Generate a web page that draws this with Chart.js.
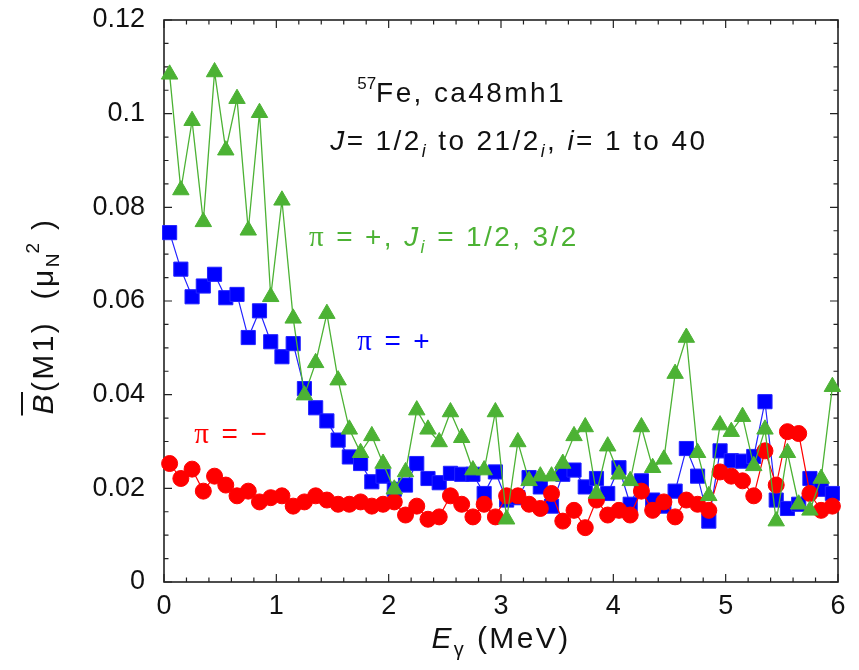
<!DOCTYPE html>
<html>
<head>
<meta charset="utf-8">
<script src="https://cdn.jsdelivr.net/npm/chart.js@4.4.1/dist/chart.umd.min.js"></script>
<style>
  html, body { margin: 0; padding: 0; background: #fff; }
</style>
</head>
<body>
<canvas id="chart" width="859" height="670"></canvas>
<script>
// bin centres (MeV)
const energies = [
  0.05, 0.15, 0.25, 0.35, 0.45, 0.55, 0.65, 0.75, 0.85, 0.95,
  1.05, 1.15, 1.25, 1.35, 1.45, 1.55, 1.65, 1.75, 1.85, 1.95,
  2.05, 2.15, 2.25, 2.35, 2.45, 2.55, 2.65, 2.75, 2.85, 2.95,
  3.05, 3.15, 3.25, 3.35, 3.45, 3.55, 3.65, 3.75, 3.85, 3.95,
  4.05, 4.15, 4.25, 4.35, 4.45, 4.55, 4.65, 4.75, 4.85, 4.95,
  5.05, 5.15, 5.25, 5.35, 5.45, 5.55, 5.65, 5.75, 5.85, 5.95
];

// pi = +, J_i = 1/2, 3/2 (green triangles)
const plusLowJ = [
  0.1084, 0.0837, 0.0985, 0.0769, 0.1089, 0.0922, 0.1032, 0.0751, 0.1002, 0.0609,
  0.0815, 0.0563, 0.0399, 0.0468, 0.0573, 0.0431, 0.0326, 0.0276, 0.0312, 0.0253,
  0.0198, 0.0235, 0.0367, 0.0326, 0.0299, 0.0363, 0.0308, 0.0239, 0.0239, 0.0363,
  0.0134, 0.0299, 0.0216, 0.0226, 0.0226, 0.0253, 0.0312, 0.0331, 0.0189, 0.0290,
  0.0230, 0.0216, 0.0331, 0.0244, 0.0262, 0.0445, 0.0522, 0.0276, 0.0184, 0.0335,
  0.0321, 0.0353, 0.0248, 0.0326, 0.0130, 0.0276, 0.0166, 0.0153, 0.0221, 0.0417
];

// pi = + (blue squares)
const plusAll = [
  0.0746, 0.0668, 0.0609, 0.0632, 0.0657, 0.0607, 0.0614, 0.0522, 0.0579, 0.0513,
  0.0481, 0.0509, 0.0413, 0.0372, 0.0344, 0.0303, 0.0267, 0.0253, 0.0214, 0.0226,
  0.0198, 0.0207, 0.0253, 0.0221, 0.0212, 0.0232, 0.0230, 0.0230, 0.0189, 0.0235,
  0.0175, 0.0180, 0.0223, 0.0203, 0.0162, 0.0230, 0.0239, 0.0203, 0.0221, 0.0189,
  0.0244, 0.0166, 0.0216, 0.0175, 0.0162, 0.0194, 0.0285, 0.0226, 0.0130, 0.0280,
  0.0259, 0.0258, 0.0268, 0.0385, 0.0175, 0.0157, 0.0166, 0.0221, 0.0198, 0.0189
];

// pi = - (red circles)
const minusAll = [
  0.0253, 0.0221, 0.0241, 0.0194, 0.0226, 0.0207, 0.0184, 0.0194, 0.0171, 0.0180,
  0.0184, 0.0162, 0.0171, 0.0184, 0.0175, 0.0166, 0.0166, 0.0171, 0.0162, 0.0166,
  0.0171, 0.0143, 0.0162, 0.0134, 0.0139, 0.0184, 0.0166, 0.0139, 0.0166, 0.0139,
  0.0184, 0.0184, 0.0166, 0.0157, 0.0189, 0.0130, 0.0153, 0.0116, 0.0175, 0.0143,
  0.0153, 0.0143, 0.0194, 0.0153, 0.0171, 0.0139, 0.0175, 0.0166, 0.0153, 0.0235,
  0.0226, 0.0216, 0.0184, 0.0280, 0.0207, 0.0321, 0.0317, 0.0189, 0.0153, 0.0162
];

const xTicks = [0, 1, 2, 3, 4, 5, 6];
const yTicks = [0, 0.02, 0.04, 0.06, 0.08, 0.1, 0.12];

const GREEN = '#4cb234';
const SANS = '"Liberation Sans", Arial, sans-serif';
const SERIF = '"Liberation Serif", "Times New Roman", serif';
const SPACING = 2.4; // the figure's lettering is a bit looser than plain Arial

function pts(arr) {
  return energies.map((e, i) => ({ x: e, y: arr[i] }));
}

// draw text pieces (font changes, sub/superscripts) char by char from x, baseline y
function drawRuns(ctx, x, y, runs, color, dryRun) {
  let cx = x;
  const marks = [];
  for (const r of runs) {
    ctx.font = r.font;
    ctx.fillStyle = color;
    const start = cx;
    for (const ch of r.t) {
      if (!dryRun) ctx.fillText(ch, cx, y + (r.dy || 0));
      cx += ctx.measureText(ch).width + (r.sp !== undefined ? r.sp : SPACING);
    }
    marks.push({ x: start, w: cx - start });
  }
  return { width: cx - x, marks: marks };
}

const frameTicks = {
  id: 'frameTicks',
  beforeDatasetsDraw(chart) {
    const { ctx, chartArea: a, scales: { x, y } } = chart;
    ctx.save();
    ctx.strokeStyle = '#222';
    ctx.lineWidth = 1.2;
    ctx.beginPath();
    for (let k = 0; k <= 24; k++) {
      const py = y.getPixelForValue(k * 0.005);
      const len = k % 4 === 0 ? 8 : 4.5;
      ctx.moveTo(a.left, py); ctx.lineTo(a.left + len, py);
      ctx.moveTo(a.right, py); ctx.lineTo(a.right - len, py);
    }
    for (let k = 0; k <= 30; k++) {
      const px = x.getPixelForValue(k * 0.2);
      const len = k % 5 === 0 ? 8 : 4.5;
      ctx.moveTo(px, a.bottom); ctx.lineTo(px, a.bottom - len);
      ctx.moveTo(px, a.top); ctx.lineTo(px, a.top + len);
    }
    ctx.stroke();
    ctx.lineWidth = 1.6;
    ctx.strokeRect(a.left, a.top, a.right - a.left, a.bottom - a.top);
    ctx.restore();
  }
};

const labels = {
  id: 'labels',
  afterDatasetsDraw(chart) {
    const { ctx, chartArea: a, scales: { x, y } } = chart;
    const f28 = '28px ' + SANS, i28 = 'italic 28px ' + SANS, i18 = 'italic 18px ' + SANS;
    const pi = '29px ' + SERIF;
    ctx.save();
    ctx.textBaseline = 'alphabetic';
    ctx.textAlign = 'left';

    drawRuns(ctx, x.getPixelForValue(1.72), y.getPixelForValue(0.1025), [
      { t: '57', font: '17px ' + SANS, dy: -13, sp: 0 },
      { t: 'Fe, ca48mh1', font: f28 }
    ], '#111');
    drawRuns(ctx, x.getPixelForValue(1.48), y.getPixelForValue(0.0922), [
      { t: 'J', font: i28 }, { t: '= 1/2', font: f28 }, { t: 'i', font: i18, dy: 7 },
      { t: ' to 21/2', font: f28 }, { t: 'i', font: i18, dy: 7 }, { t: ', ', font: f28 },
      { t: 'i', font: i28 }, { t: '= 1 to 40', font: f28 }
    ], '#111');
    drawRuns(ctx, x.getPixelForValue(1.29), y.getPixelForValue(0.0717), [
      { t: 'π', font: pi }, { t: ' = +, ', font: f28 }, { t: 'J', font: i28 },
      { t: 'i', font: i18, dy: 7 }, { t: ' = 1/2, 3/2', font: f28 }
    ], GREEN);
    drawRuns(ctx, x.getPixelForValue(1.72), y.getPixelForValue(0.0495), [
      { t: 'π', font: pi }, { t: ' = +', font: f28 }
    ], '#0000ff');
    drawRuns(ctx, x.getPixelForValue(0.27), y.getPixelForValue(0.0297), [
      { t: 'π', font: pi }, { t: ' = \u2212', font: f28 }
    ], '#ff0000');

    // x axis title
    const xr = [
      { t: 'E', font: 'italic 30px ' + SANS },
      { t: 'γ', font: '20px ' + SANS, dy: 8 },
      { t: ' (MeV)', font: '30px ' + SANS }
    ];
    const xw = drawRuns(ctx, 0, 0, xr, '#111', true).width;
    drawRuns(ctx, (a.left + a.right) / 2 - xw / 2, 648, xr, '#111');

    // y axis title, rotated
    const yr = [
      { t: 'B', font: 'italic 30px ' + SANS },
      { t: '(M1)  (μ', font: '30px ' + SANS },
      { t: 'N', font: '19px ' + SANS, dy: 6, sp: 0 },
      { t: '2', font: '19px ' + SANS, dy: -14 },
      { t: ' )', font: '30px ' + SANS }
    ];
    const yw = drawRuns(ctx, 0, 0, yr, '#111', true).width;
    ctx.translate(53, (a.top + a.bottom) / 2 + 15);
    ctx.rotate(-Math.PI / 2);
    const res = drawRuns(ctx, -yw / 2, 0, yr, '#111');
    ctx.strokeStyle = '#111';
    ctx.lineWidth = 2;
    ctx.beginPath();
    ctx.moveTo(res.marks[0].x - 1, -31);
    ctx.lineTo(res.marks[0].x + res.marks[0].w, -31);
    ctx.stroke();
    ctx.restore();
  }
};

new Chart(document.getElementById('chart'), {
  type: 'line',
  data: {
    datasets: [
      {
        label: 'π = +, Ji = 1/2, 3/2',
        data: pts(plusLowJ),
        borderColor: GREEN,
        backgroundColor: GREEN,
        borderWidth: 1.3,
        pointStyle: 'triangle',
        pointRadius: 9.5,
        pointBorderWidth: 1,
        clip: false
      },
      {
        label: 'π = −',
        data: pts(minusAll),
        borderColor: '#ff0000',
        backgroundColor: '#ff0000',
        borderWidth: 1.2,
        pointStyle: 'circle',
        pointRadius: 8,
        pointBorderWidth: 1,
        clip: false
      },
      {
        label: 'π = +',
        data: pts(plusAll),
        borderColor: '#2222ff',
        backgroundColor: '#0000ff',
        borderWidth: 1.2,
        pointStyle: 'rect',
        pointRadius: 10,
        pointBorderWidth: 1,
        clip: false
      }
    ]
  },
  options: {
    responsive: false,
    animation: false,
    events: [],
    layout: { padding: { left: 0, right: 21, top: 20, bottom: 0 } },
    plugins: { legend: { display: false }, tooltip: { enabled: false } },
    scales: {
      x: {
        type: 'linear',
        min: 0,
        max: 6,
        afterFit: (s) => { s.height = 88; },
        afterBuildTicks: (s) => { s.ticks = xTicks.map((v) => ({ value: v })); },
        grid: { display: false, drawTicks: false },
        border: { display: false },
        ticks: {
          padding: 8,
          color: '#111',
          font: { family: SANS, size: 27 },
          callback: (v) => String(v)
        }
      },
      y: {
        type: 'linear',
        min: 0,
        max: 0.12,
        afterFit: (s) => { s.width = 164; s.paddingTop = 0; s.paddingBottom = 0; },
        afterBuildTicks: (s) => { s.ticks = yTicks.map((v) => ({ value: v })); },
        grid: { display: false, drawTicks: false },
        border: { display: false },
        ticks: {
          padding: 19,
          color: '#111',
          font: { family: SANS, size: 27 },
          callback: (v) => String(+v.toFixed(3))
        }
      }
    }
  },
  plugins: [frameTicks, labels]
});
</script>
</body>
</html>
